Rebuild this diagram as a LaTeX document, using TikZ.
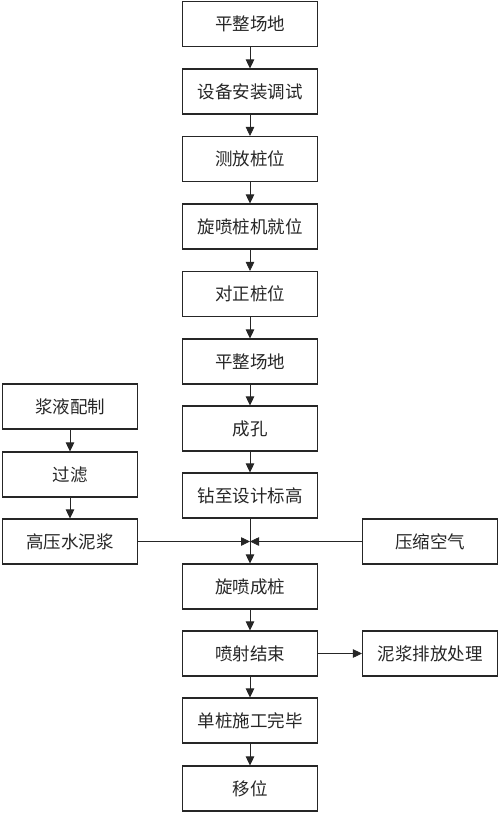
\documentclass[tikz,border=0pt]{standalone}
\usepackage{fontspec}
\setmainfont{Noto Sans CJK SC}
\usetikzlibrary{arrows.meta}
\begin{document}
\begin{tikzpicture}[x=1pt,y=-1pt,
  stepbox/.style={draw=black!85,line width=1.1pt,minimum width=135pt,minimum height=45pt,inner sep=0pt,font=\fontsize{17.5}{20}\selectfont,text=black!85},
  arr/.style={line width=0.8pt,draw=black!85,-{Triangle[length=9pt,width=8.5pt]}},
  ln/.style={line width=0.8pt,draw=black!85}]
\useasboundingbox (0,0) rectangle (500,814);
\node[stepbox] (a1) at (250,24) {平整场地};
\node[stepbox] (a2) at (250,91.5) {设备安装调试};
\node[stepbox] (a3) at (250,159) {测放桩位};
\node[stepbox] (a4) at (250,226.5) {旋喷桩机就位};
\node[stepbox] (a5) at (250,294) {对正桩位};
\node[stepbox] (a6) at (250,361.5) {平整场地};
\node[stepbox] (a7) at (250,428.5) {成孔};
\node[stepbox] (a8) at (250,495.5) {钻至设计标高};
\node[stepbox] (a9) at (250,586.5) {旋喷成桩};
\node[stepbox] (a10) at (250,653.5) {喷射结束};
\node[stepbox] (a11) at (250,720.5) {单桩施工完毕};
\node[stepbox] (a12) at (250,788.5) {移位};
\node[stepbox] (l1) at (70,406.5) {浆液配制};
\node[stepbox] (l2) at (70,474.5) {过滤};
\node[stepbox] (l3) at (70,541.5) {高压水泥浆};
\node[stepbox] (r1) at (430,541.5) {压缩空气};
\node[stepbox] (r2) at (430,653.5) {泥浆排放处理};
\coordinate (j) at (250,541.5);
\foreach \i/\k in {1/2,2/3,3/4,4/5,5/6,6/7,7/8,8/9,9/10,10/11,11/12}
  \draw[arr] (a\i) -- (a\k);
\draw[arr] (l1) -- (l2);
\draw[arr] (l2) -- (l3);
\draw[arr] (l3) -- (j);
\draw[arr] (r1) -- (j);
\draw[arr] (a10) -- (r2);
\end{tikzpicture}
\end{document}
